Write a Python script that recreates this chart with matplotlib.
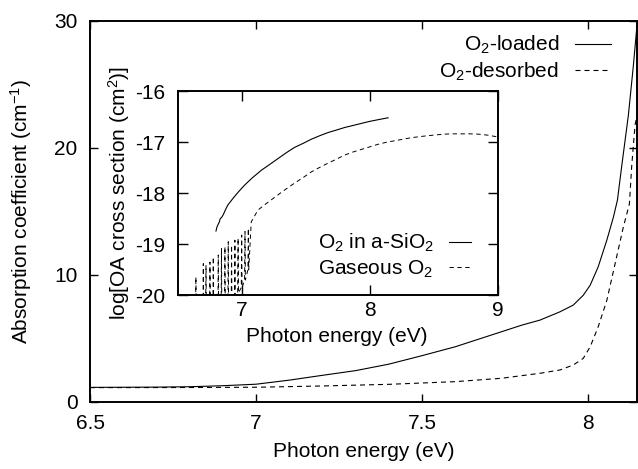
import matplotlib
matplotlib.use("Agg")
import matplotlib.pyplot as plt

plt.rcParams['font.family'] = ['Liberation Sans', 'DejaVu Sans']
plt.rcParams['mathtext.fontset'] = 'custom'
plt.rcParams['mathtext.rm'] = 'Liberation Sans'
plt.rcParams['mathtext.it'] = 'Liberation Sans:italic'
plt.rcParams['mathtext.bf'] = 'Liberation Sans:bold'
plt.rcParams['axes.unicode_minus'] = False

# ---- absorption spectra of the glass (main panel) ----
loaded_energy = [6.50, 6.70, 6.80, 6.90, 7.00, 7.10, 7.20, 7.30, 7.40, 7.50,
                 7.60, 7.70, 7.80, 7.855, 7.915, 7.955, 7.985, 8.006, 8.030,
                 8.056, 8.076, 8.088, 8.101, 8.121, 8.136, 8.150]
loaded_alpha = [1.15, 1.17, 1.20, 1.28, 1.40, 1.72, 2.10, 2.47, 2.98, 3.65,
                4.35, 5.20, 6.05, 6.45, 7.10, 7.63, 8.40, 9.20, 10.64,
                12.74, 14.57, 15.90, 18.60, 22.60, 26.50, 30.60]

desorbed_energy = [6.50, 6.80, 7.00, 7.20, 7.40, 7.60, 7.74, 7.855, 7.915,
                   7.955, 7.985, 8.006, 8.030, 8.056, 8.081, 8.106, 8.124,
                   8.131, 8.141, 8.150]
desorbed_alpha = [1.13, 1.14, 1.16, 1.26, 1.39, 1.60, 1.87, 2.26, 2.52,
                  2.91, 3.43, 4.35, 5.92, 8.00, 10.90, 13.80, 15.60,
                  18.60, 21.80, 23.00]

# ---- optical absorption cross sections (inset) ----
sio2_energy = [6.797, 6.805, 6.812, 6.822, 6.830, 6.842, 6.854, 6.870, 6.890,
               6.930, 6.970, 7.021, 7.080, 7.151, 7.220, 7.282, 7.350, 7.412,
               7.480, 7.543, 7.610, 7.673, 7.740, 7.804, 7.870, 7.934, 8.000,
               8.070, 8.143]
sio2_log = [-18.74, -18.66, -18.62, -18.57, -18.50, -18.47, -18.42, -18.33,
            -18.23, -18.10, -17.98, -17.84, -17.70, -17.55, -17.43, -17.32,
            -17.20, -17.10, -17.02, -16.94, -16.87, -16.81, -16.76, -16.71,
            -16.67, -16.63, -16.59, -16.555, -16.52]

# Schumann-Runge band structure of the gas phase (trough, peak, trough)
gas_band_energy = [
    6.637, 6.640, 6.643,
    6.695, 6.698, 6.701, 6.716, 6.719, 6.722, 6.747, 6.750, 6.753,
    6.773, 6.776, 6.779, 6.812, 6.815, 6.818, 6.837, 6.840, 6.843,
    6.864, 6.867, 6.870, 6.890, 6.893, 6.896, 6.916, 6.919, 6.922,
    6.942, 6.945, 6.948, 6.967, 6.970, 6.973, 6.995, 6.998, 7.001,
    7.021, 7.024, 7.027, 7.047, 7.050, 7.053]
gas_band_log = [
    -20.4, -19.64, -20.4,
    -20.4, -19.38, -20.4, -20.4, -19.41, -20.4, -20.4, -19.35, -20.4,
    -20.4, -19.25, -20.4, -20.4, -19.21, -20.4, -20.4, -19.08, -20.4,
    -20.4, -19.05, -20.4, -20.4, -18.95, -20.4, -20.4, -19.02, -20.4,
    -20.1, -18.92, -20.1, -19.95, -18.88, -19.95, -19.85, -18.82, -19.85,
    -19.7, -18.75, -19.7, -19.5, -18.69, -19.5]

gas_energy = [7.073, 7.100, 7.125, 7.170, 7.229, 7.320, 7.412, 7.480, 7.543,
              7.610, 7.673, 7.740, 7.804, 7.870, 7.934, 8.000, 8.064, 8.130,
              8.195, 8.260, 8.325, 8.390, 8.456, 8.520, 8.586, 8.650, 8.717,
              8.780, 8.847, 8.920, 8.990, 9.000]
gas_log = [-18.56, -18.44, -18.33, -18.24, -18.13, -17.96, -17.80, -17.69,
           -17.58, -17.49, -17.41, -17.33, -17.25, -17.19, -17.14, -17.09,
           -17.04, -17.00, -16.97, -16.94, -16.91, -16.89, -16.87, -16.855,
           -16.84, -16.835, -16.835, -16.835, -16.84, -16.86, -16.89, -16.90]

main_xticks = [6.5, 7.0, 7.5, 8.0]
main_xticklabels = ['6.5', '7', '7.5', '8']
main_yticks = [0, 10, 20, 30]
main_yticklabels = ['0', '10', '20', '30']
inset_xticks = [7, 8, 9]
inset_xticklabels = ['7', '8', '9']
inset_yticks = [-20, -19, -18, -17, -16]
inset_yticklabels = ['-20', '-19', '-18', '-17', '-16']

FS = 15
DASH = (0, (4.5, 3.6))
LW = 0.8

fig = plt.figure(figsize=(6.38, 4.69), dpi=100)

ax = fig.add_axes([0.1411, 0.1429, 0.8574, 0.8124])
ax.plot(loaded_energy, loaded_alpha, color='black', lw=LW,
        label='O$_2$-loaded')
ax.plot(desorbed_energy, desorbed_alpha, color='black', lw=LW,
        linestyle=DASH, label='O$_2$-desorbed')
ax.set_xlim(6.5, 8.147)
ax.set_ylim(0, 30)
ax.set_xticks(main_xticks)
ax.set_xticklabels(main_xticklabels)
ax.set_yticks(main_yticks)
ax.set_yticklabels(main_yticklabels)
ax.tick_params(direction='in', top=True, right=True, length=6, width=1.0,
               labelsize=FS)
ax.tick_params(axis='x', pad=9)
ax.tick_params(axis='y', pad=9)
for s in ax.spines.values():
    s.set_linewidth(1.4)
ax.set_xlabel('Photon energy (eV)', fontsize=FS)
ax.set_ylabel('Absorption coefficient (cm$^{-1}$)', fontsize=FS)
ax.xaxis.set_label_coords(0.5, -0.105)
ax.yaxis.set_label_coords(-0.102, 0.5)
ax.legend(loc='upper right', bbox_to_anchor=(0.9525, 0.966), frameon=False,
          fontsize=FS, markerfirst=False, handlelength=1.75,
          handletextpad=0.75, borderpad=0, borderaxespad=0,
          labelspacing=0.2)

ins = fig.add_axes([0.279, 0.3704, 0.501, 0.435])
ins.plot(sio2_energy, sio2_log, color='black', lw=LW,
         label='O$_2$ in a-SiO$_2$')
ins.plot(gas_band_energy + gas_energy, gas_band_log + gas_log,
         color='black', lw=0.7, linestyle=DASH, label='Gaseous O$_2$')
ins.set_xlim(6.5, 9.0)
ins.set_ylim(-20, -16)
ins.set_xticks(inset_xticks)
ins.set_xticklabels(inset_xticklabels)
ins.set_yticks(inset_yticks)
ins.set_yticklabels(inset_yticklabels)
ins.tick_params(direction='in', top=True, right=True, length=7, width=1.0,
                labelsize=FS)
ins.tick_params(axis='x', pad=4)
ins.tick_params(axis='y', pad=9)
for s in ins.spines.values():
    s.set_linewidth(1.4)
ins.set_xlabel('Photon energy (eV)', fontsize=FS)
ins.set_ylabel('log[OA cross section (cm$^2$)]', fontsize=FS)
ins.xaxis.set_label_coords(0.4975, -0.155)
ins.yaxis.set_label_coords(-0.145, 0.5)
ins.legend(loc='upper right', bbox_to_anchor=(0.917, 0.31), frameon=False,
           fontsize=FS, markerfirst=False, handlelength=1.05,
           handletextpad=0.75, borderpad=0, borderaxespad=0,
           labelspacing=0.2)

fig.savefig('out.png', dpi=100)
